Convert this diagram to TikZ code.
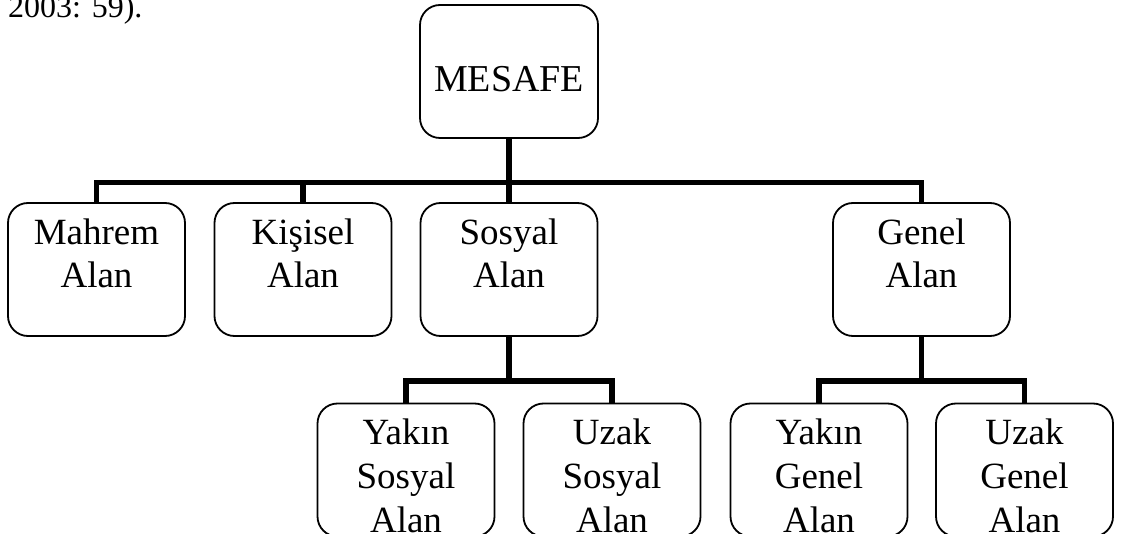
\documentclass[tikz,border=0pt]{standalone}
\usepackage{fontspec}
\setmainfont{Liberation Serif}
\begin{document}
\begin{tikzpicture}[x=1pt,y=-1pt,
  box/.style={draw=black,line width=1.8pt,rounded corners=20pt,minimum width=177pt,minimum height=133pt,inner sep=0pt},
  txt/.style={anchor=base,inner sep=0pt,font=\fontsize{37}{42.5}\selectfont},
  txtb/.style={anchor=base,inner sep=0pt,font=\fontsize{37}{44}\selectfont},
  conn/.style={draw=black,line width=5.5pt,line join=miter}]
\useasboundingbox (0,0) rectangle (1121,534);
\clip (0,0) rectangle (1121,534);
\node[anchor=base west,inner sep=0pt,font=\fontsize{32}{38}\selectfont] (cite) at (8,18) {2003: 59).};
% boxes
\node[box,minimum width=178pt] (mesafe) at (509,71.5) {};
\node[box] (mahrem) at (96.5,269.5) {};
\node[box] (kisisel) at (303,269.5) {};
\node[box] (sosyal) at (509,269.5) {};
\node[box] (genel) at (921.5,269.5) {};
\node[box] (ys) at (406,470) {};
\node[box] (us) at (612,470) {};
\node[box] (yg) at (819,470) {};
\node[box] (ug) at (1024.5,470) {};
% texts
\node[txt,font=\fontsize{38}{44}\selectfont] (mesafeT) at (509,92) {MESAFE};
\node[txt] (mahremT) at (96.5,245) {\begin{tabular}[t]{@{}c@{}}Mahrem\\Alan\end{tabular}};
\node[txt] (kisiselT) at (303,245) {\begin{tabular}[t]{@{}c@{}}Kişisel\\Alan\end{tabular}};
\node[txt] (sosyalT) at (509,245) {\begin{tabular}[t]{@{}c@{}}Sosyal\\Alan\end{tabular}};
\node[txt] (genelT) at (921.5,245) {\begin{tabular}[t]{@{}c@{}}Genel\\Alan\end{tabular}};
\node[txtb] (ysT) at (406,444) {\begin{tabular}[t]{@{}c@{}}Yakın\\Sosyal\\Alan\end{tabular}};
\node[txtb] (usT) at (612,444) {\begin{tabular}[t]{@{}c@{}}Uzak\\Sosyal\\Alan\end{tabular}};
\node[txtb] (ygT) at (819,444) {\begin{tabular}[t]{@{}c@{}}Yakın\\Genel\\Alan\end{tabular}};
\node[txtb] (ugT) at (1024.5,444) {\begin{tabular}[t]{@{}c@{}}Uzak\\Genel\\Alan\end{tabular}};
% connectors
\coordinate (bus) at (509,182.5);
\coordinate (sbus) at (509,381);
\coordinate (gbus) at (921.5,381);
\draw[conn] (mesafe.south) -- (sosyal.north);
\draw[conn] (mahrem.north) |- (bus) -| (genel.north);
\draw[conn] (kisisel.north) -- (kisisel.north |- bus);
\draw[conn] (sosyal.south) -- (sbus);
\draw[conn] (ys.north) |- (sbus) -| (us.north);
\draw[conn] (genel.south) -- (gbus);
\draw[conn] (yg.north) |- (gbus) -| (ug.north);
\end{tikzpicture}
\end{document}
